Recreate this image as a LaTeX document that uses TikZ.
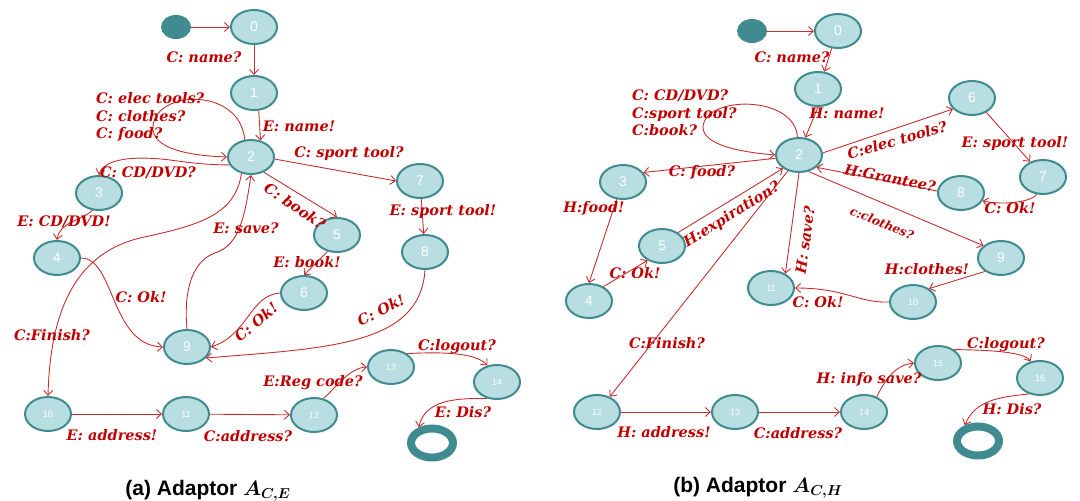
\documentclass[tikz,border=0pt]{standalone}
\usepackage{amsmath}
\usepackage{fontspec}
\setsansfont{Liberation Sans}
\newfontfamily\lblfont{DejaVu Serif}
\usetikzlibrary{arrows.meta, shapes.geometric}

\definecolor{stfill}{HTML}{B8DEE2}
\definecolor{stline}{HTML}{3F8B90}
\definecolor{lblred}{HTML}{C00000}
\definecolor{edgered}{HTML}{C62F2F}

\tikzset{
    state/.style={ellipse, draw=stline, fill=stfill, line width=2pt, minimum width=46pt, minimum height=34pt, inner sep=0pt, text=white, font=\sffamily\fontsize{14}{14}\selectfont},
    smallstate/.style={state, font=\sffamily\fontsize{9}{9}\selectfont},
    startstate/.style={ellipse, fill=stline, minimum width=30pt, minimum height=24pt, inner sep=0pt},
    finalstate/.style={ellipse, draw=stline, line width=8pt, fill=white, minimum width=42pt, minimum height=29pt, inner sep=0pt},
    trans/.style={draw=edgered, line width=0.9pt, -{Straight Barb[length=5pt,width=9pt]}},
    lbl/.style={text=lblred, font=\lblfont\bfseries\itshape\fontsize{14.5}{17.5}\selectfont, inner sep=0pt},
    caption/.style={font=\sffamily\bfseries\fontsize{21}{22}\selectfont}
}

\begin{document}
\begin{tikzpicture}[x=1pt, y=-1pt]
    % Page frame
    \useasboundingbox (0,0) rectangle (1080,501);

    % ---------------- Adaptor A_{C,E} ----------------
    % States
    \node[startstate] (as) at (176,27) {};
    \foreach \n/\x/\y in {0/254/27, 1/254/93, 2/251/157, 3/99/193, 4/57/258, 5/337/235, 6/304/293, 7/420/181, 8/425/252, 9/187/347}
    {
        \node[state] (a\n) at (\x,\y) {\n};
    }
    \foreach \n/\x/\y in {10/48/414, 11/186/414, 12/314/415, 13/391/367, 14/497/382}
    {
        \node[smallstate] (a\n) at (\x,\y) {\n};
    }
    \node[finalstate] (af) at (432,443) {};

    % Transitions
    \draw[trans] (as) -- (a0);
    \draw[trans] (a0) -- (a1);
    \draw[trans] (a1.-75) -- (a2.60);
    \draw[trans] (a2.110) .. controls (240,85) and (150,90) .. (153,130) .. controls (156,152) and (200,156) .. (a2.west);
    \draw[trans] (a2.200) .. controls (205,165) and (185,162) .. (170,160) .. controls (130,155) and (103,160) .. (a3.north);
    \draw[trans] (a3.250) .. controls (78,222) and (60,222) .. (a4.north);
    \draw[trans] (a2.-5) -- (a7.west);
    \draw[trans] (a7) -- (a8);
    \draw[trans] (a2.-50) -- (a5.north);
    \draw[trans] (a5.240) -- (a6.north);
    \draw[trans] (a6.west) .. controls (250,295) and (248,335) .. (a9.east);
    \draw[trans] (a8.south) .. controls (420,345) and (330,348) .. (a9.-30);
    \draw[trans] (a4.east) .. controls (115,258) and (110,345) .. (a9.west);
    \draw[trans] (a9.north) .. controls (183,285) and (195,260) .. (215,253) .. controls (240,245) and (245,215) .. (a2.south);
    \draw[trans] (a2.240) .. controls (235,215) and (200,225) .. (140,238) .. controls (70,255) and (50,320) .. (a10.north);
    \draw[trans] (a10) -- (a11);
    \draw[trans] (a11) -- (a12);
    \draw[trans] (a12.60) .. controls (338,385) and (350,368) .. (a13.west);
    \draw[trans] (a13.40) .. controls (440,352) and (475,352) .. (a14.120);
    \draw[trans] (a14.240) .. controls (455,398) and (425,400) .. (af.130);

    % Labels
    \node[lbl] (lname) at (204,57) {C: name?};
    \node[lbl, align=left, anchor=west] (lloop) at (96,117) {C: elec tools?\\C: clothes?\\C: food?};
    \node[lbl] (lnameok) at (299,126) {E: name!};
    \node[lbl] (lsport) at (349,153) {C: sport tool?};
    \node[lbl] (lcd) at (148,173) {C: CD/DVD?};
    \node[lbl] (lcdok) at (64,222) {E: CD/DVD!};
    \node[lbl, rotate=-34] (lbook) at (295,206) {C: book?};
    \node[lbl] (lsportok) at (443,211) {E: sport tool!};
    \node[lbl] (lsave) at (246,228) {E: save?};
    \node[lbl] (lbookok) at (307,262) {E: book!};
    \node[lbl] (lokc) at (141,297) {C: Ok!};
    \node[lbl, rotate=40] (lokb) at (256,322) {C: Ok!};
    \node[lbl, rotate=27] (loka) at (381,310) {C: Ok!};
    \node[lbl] (lfinish) at (52,335) {C:Finish?};
    \node[lbl] (laddr) at (112,435) {E: address!};
    \node[lbl] (laddrq) at (248,436) {C:address?};
    \node[lbl] (lreg) at (313,383) {E:Reg code?};
    \node[lbl] (llogout) at (457,347) {C:logout?};
    \node[lbl] (ldis) at (463,412) {E: Dis?};

    \node[caption] (capa) at (208,491) {(a) Adaptor $\boldsymbol{A_{C,E}}$};

    % ---------------- Adaptor A_{C,H} ----------------
    % States
    \node[startstate] (bs) at (752,31) {};
    \foreach \n/\x/\y in {0/838/31, 1/818/89, 2/799/155, 3/623/182, 4/589/301, 5/662/246, 6/972/98, 7/1043/177, 8/961/193, 9/1001/258}
    {
        \node[state] (b\n) at (\x,\y) {\n};
    }
    \foreach \n/\x/\y in {10/913/302, 11/771/288, 12/597/412, 13/735/412, 14/864/412, 15/938/363, 16/1040/378}
    {
        \node[smallstate] (b\n) at (\x,\y) {\n};
    }
    \node[finalstate] (bf) at (978,441) {};

    % Transitions
    \draw[trans] (bs) -- (b0);
    \draw[trans] (b0.250) -- (b1.70);
    \draw[trans] (b1.south) -- (b2.70);
    \draw[trans] (b2.95) .. controls (795,95) and (705,95) .. (703,127) .. controls (703,145) and (740,152) .. (b2.west);
    \draw[trans] (b2.188) -- (b3.25);
    \draw[trans] (b3.250) -- (b4.north);
    \draw[trans] (b4.45) -- (b5.225);
    \draw[trans] (b5.40) -- (b2.220);
    \draw[trans] (b2.235) -- (b12.50);
    \draw[trans] (b2.270) -- (b11.45);
    \draw[trans] (b2.5) -- (b6.210);
    \draw[trans] (b6.-45) -- (b7.130);
    \draw[trans] (b7.250) .. controls (1030,203) and (1000,205) .. (b8.-20);
    \draw[trans] (b8.175) -- (b2.-35);
    \draw[trans] (b2.-60) -- (b9.145);
    \draw[trans] (b9.220) -- (b10.40);
    \draw[trans] (b10.west) .. controls (858,303) and (845,288) .. (b11.east);
    \draw[trans] (b12) -- (b13);
    \draw[trans] (b13) -- (b14);
    \draw[trans] (b14.50) .. controls (885,380) and (895,365) .. (b15.west);
    \draw[trans] (b15.40) .. controls (990,350) and (1025,352) .. (b16.120);
    \draw[trans] (b16.235) .. controls (1000,397) and (975,400) .. (bf.130);

    % Labels
    \node[lbl] (rname) at (792,57) {C: name?};
    \node[lbl, align=left, anchor=west] (rloop) at (632,113) {C: CD/DVD?\\C:sport tool?\\C:book?};
    \node[lbl] (rnameok) at (847,113) {H: name!};
    \node[lbl] (rfood) at (702,172) {C: food?};
    \node[lbl, rotate=16] (relec) at (897,140) {C:elec tools?};
    \node[lbl] (rsportok) at (1015,143) {E: sport tool!};
    \node[lbl, rotate=-11] (rgrant) at (890,178) {H:Grantee?};
    \node[lbl] (rokc) at (1010,208) {C: Ok!};
    \node[lbl] (rfoodok) at (594,208) {H:food!};
    \node[lbl, rotate=32] (rexp) at (732,215) {H:expiration?};
    \node[lbl, rotate=82] (rsave) at (805,240) {H: save?};
    \node[lbl, rotate=-22, font=\lblfont\bfseries\itshape\fontsize{12}{14}\selectfont] (rcloth) at (882,223) {c:clothes?};
    \node[lbl] (roka) at (635,273) {C: Ok!};
    \node[lbl] (rclothok) at (927,269) {H:clothes!};
    \node[lbl] (rokb) at (818,302) {C: Ok!};
    \node[lbl] (rfinish) at (667,343) {C:Finish?};
    \node[lbl] (raddr) at (664,432) {H: address!};
    \node[lbl] (raddrq) at (798,433) {C:address?};
    \node[lbl] (rinfo) at (869,379) {H: info save?};
    \node[lbl] (rlogout) at (1006,345) {C:logout?};
    \node[lbl] (rdis) at (1012,409) {H: Dis?};

    \node[caption] (capb) at (758,488) {(b) Adaptor $\boldsymbol{A_{C,H}}$};
\end{tikzpicture}
\end{document}
